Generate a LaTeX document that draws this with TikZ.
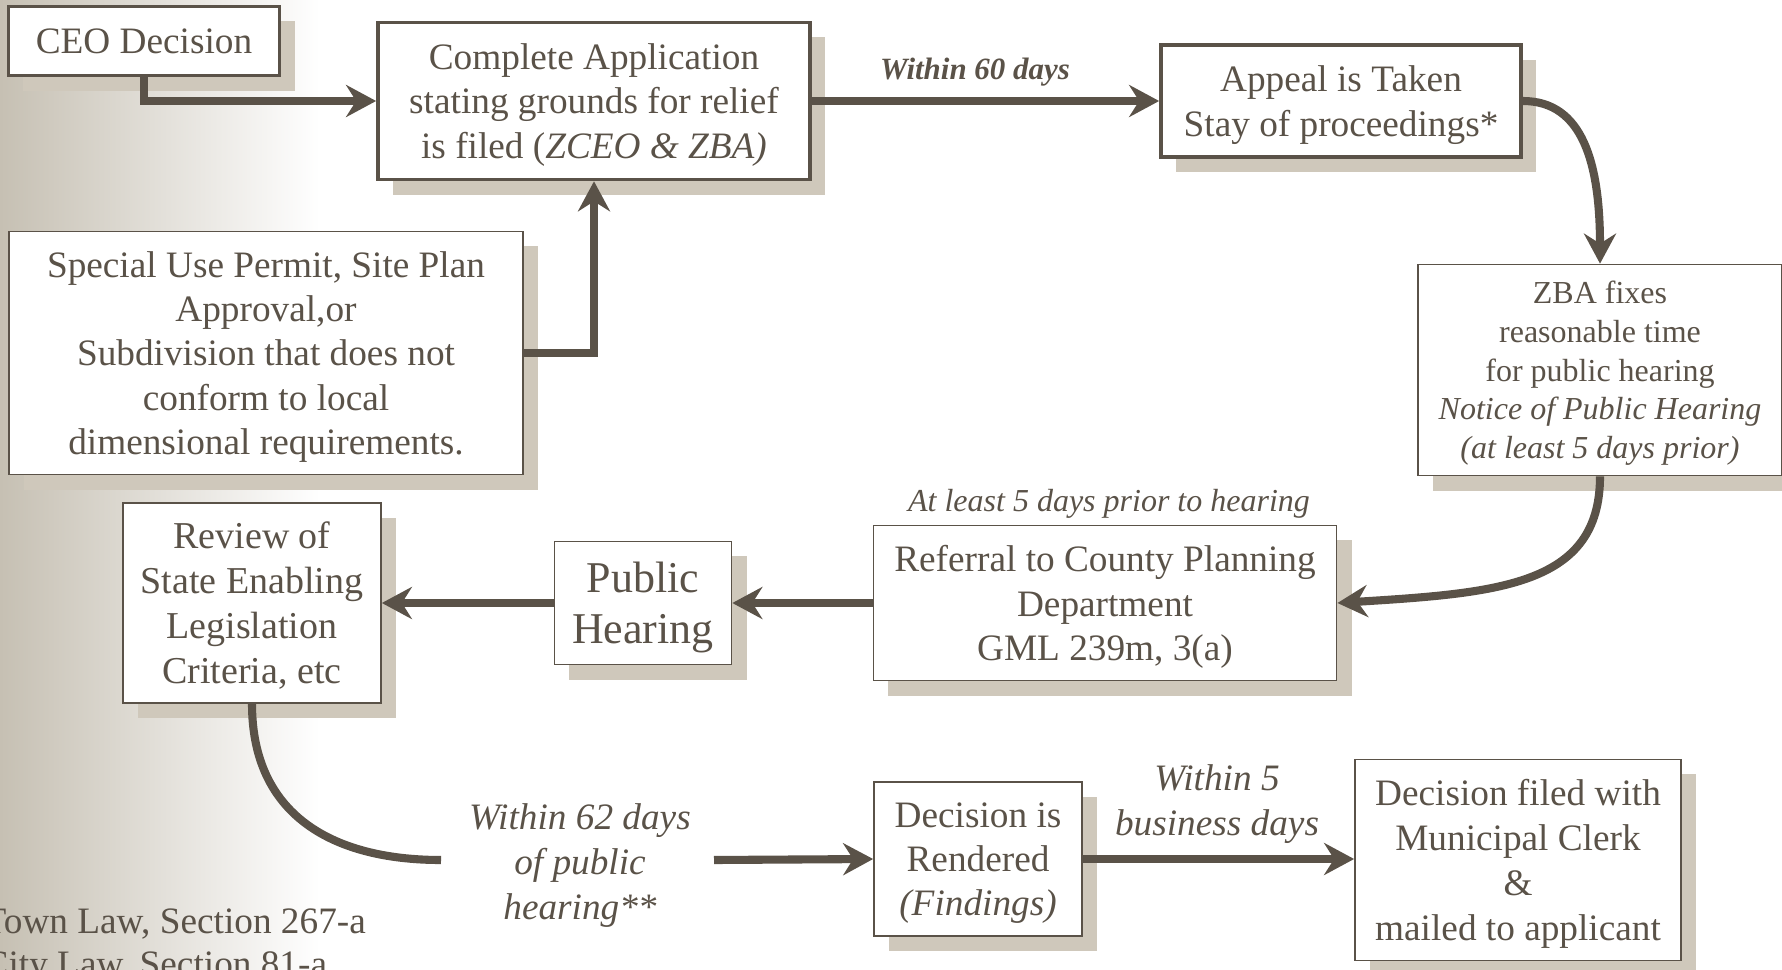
\documentclass[tikz,border=0pt]{standalone}
\usepackage{fontspec}
\setmainfont{Liberation Serif}
\usetikzlibrary{arrows.meta, shadows}
\definecolor{ink}{HTML}{5A5248}
\definecolor{shadowgray}{HTML}{CFC8BB}
\definecolor{edgegray}{HTML}{C6C0B3}
\tikzstyle{heavybox} = [rectangle, draw=ink, line width=1pt, fill=white, text=ink, align=center, inner sep=0pt, text depth=-2.2pt, font=\fontsize{10.6}{12.6}\selectfont, general shadow={fill=shadowgray, shadow xshift=0.15cm, shadow yshift=-0.15cm}]
\tikzstyle{lightbox} = [heavybox, line width=0.45pt]
\tikzstyle{note} = [text=ink, align=center, font=\fontsize{10.6}{12.8}\selectfont\itshape]
\tikzstyle{arrow} = [draw=ink, line width=2.3pt, -{Stealth[length=0.3cm, width=0.32cm, inset=0.1cm]}]
\tikzstyle{line} = [draw=ink, line width=2.3pt]

\begin{document}
\begin{tikzpicture}[x=0.01cm, y=-0.01cm]

\useasboundingbox (0,0) rectangle (1782,970);
\shade[left color=edgegray, right color=white] (0,0) rectangle (320,970);

\node (ceo) [heavybox, minimum width=2.71cm, minimum height=0.69cm] at (144,41) {CEO Decision};
\node (complete) [heavybox, minimum width=4.32cm, minimum height=1.57cm] at (594,101) {Complete Application\\stating grounds for relief\\is filed (\textit{ZCEO \& ZBA)}};
\node (appeal) [heavybox, minimum width=3.60cm, minimum height=1.12cm] at (1341,101) {Appeal is Taken\\Stay of proceedings*};
\node (zba) [lightbox, minimum width=3.64cm, minimum height=2.11cm, font=\fontsize{9.1}{11}\selectfont] at (1600,370) {ZBA fixes\\reasonable time\\for public hearing\\\textit{Notice of Public Hearing}\\\textit{(at least 5 days prior)}};
\node (special) [lightbox, minimum width=5.14cm, minimum height=2.43cm] at (266,353) {Special Use Permit, Site Plan\\Approval,or\\Subdivision that does not\\conform to local\\dimensional requirements.};
\node (review) [lightbox, minimum width=2.58cm, minimum height=2.00cm, text depth=-2.6pt, font=\fontsize{10.8}{12.8}\selectfont] at (252,603) {Review of\\State Enabling\\Legislation\\Criteria, etc};
\node (hearing) [lightbox, minimum width=1.77cm, minimum height=1.23cm, text depth=-2.4pt, font=\fontsize{12.5}{14.5}\selectfont] at (643,603) {Public\\Hearing};
\node (referral) [lightbox, minimum width=4.63cm, minimum height=1.55cm] at (1105,603) {Referral to County Planning\\Department\\GML 239m, 3(a)};
\node (rendered) [lightbox, minimum width=2.08cm, minimum height=1.54cm] at (978,859) {Decision is\\Rendered\\\textit{(Findings)}};
\node (filed) [lightbox, minimum width=3.26cm, minimum height=2.01cm, font=\fontsize{10.6}{12.8}\selectfont] at (1518,860) {Decision filed with\\Municipal Clerk\\\&\\mailed to applicant};

\node (within60) [note, font=\fontsize{8.8}{10}\selectfont\bfseries\itshape] at (975,72) {Within 60 days};
\node (prior5) [note, font=\fontsize{9.1}{11}\selectfont\itshape] at (1109,504) {At least 5 days prior to hearing};
\node (within62) [note] at (580,866) {Within 62 days\\of public\\hearing**};
\node (within5) [note] at (1217,804) {Within 5\\business days};
\node (lawnote) [text=ink, align=left, anchor=north west, inner sep=0pt, font=\fontsize{10.6}{12.3}\selectfont] at (-17,908) {Town Law, Section 267-a\\City Law, Section 81-a};

\coordinate (bend62) at (441,860);
\coordinate (start62) at (714,860);

\draw [arrow] (ceo.south) |- (complete.west);
\draw [arrow] (special.east) -| (complete.south);
\draw [arrow] (complete.east) -- (appeal.west);
\draw [arrow] (appeal.east) .. controls +(60,0) and +(0,-100) .. (zba.north);
\draw [arrow] (zba.south) .. controls +(0,110) and +(160,-10) .. (referral.east);
\draw [arrow] (referral.west) -- (hearing.east);
\draw [arrow] (hearing.west) -- (review.east);
\draw [line] (review.south) .. controls +(0,110) and +(-110,0) .. (bend62);
\draw [arrow] (start62) -- (rendered.west);
\draw [arrow] (rendered.east) -- (rendered.east -| filed.west);

\end{tikzpicture}
\end{document}
